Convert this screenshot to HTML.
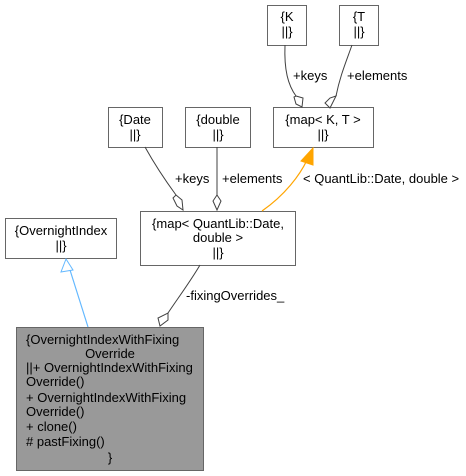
<!DOCTYPE html>
<html><head><meta charset="utf-8"><style>
html,body{margin:0;padding:0;background:#fff;}
svg{display:block;}
text{font-family:"Liberation Sans",Arial,sans-serif;font-size:13px;fill:#000;}
</style></head><body>
<svg width="466" height="476" viewBox="0 0 466 476" xmlns="http://www.w3.org/2000/svg">
<g fill="#fff" stroke="#666" stroke-width="1">
<rect x="267.5" y="5.5" width="39" height="40"/>
<rect x="339.5" y="5.5" width="39" height="40"/>
<rect x="273.5" y="107.5" width="100" height="40"/>
<rect x="108.5" y="107.5" width="54" height="40"/>
<rect x="185.5" y="107.5" width="65" height="40"/>
<rect x="140.5" y="211.5" width="155" height="54"/>
<rect x="5.5" y="218.5" width="111" height="40"/>
<rect x="16.5" y="327.5" width="187" height="143" fill="#999"/>
</g>
<g fill="none" stroke="#404040" stroke-width="1">
<path d="M285 45 C284 70 288 85 296 96"/>
<path d="M352 45 C346 62 340 76 336 96"/>
<path d="M145 147 C155 165 165 180 176 195"/>
<path d="M217 147 L217 195"/>
<path d="M200 265 C190 282 178 298 168 313"/>
</g>
<g fill="#fff" stroke="#404040" stroke-width="1">
<polygon points="296,96 303,98 302,107 296,104 294,97"/>
<polygon points="336,96 333,102 330,108 325,103 330,98"/>
<polygon points="176,195 182,200 183,210 177,206 173,198"/>
<polygon points="217,195 221,201 217,210 213,201"/>
<polygon points="168,313 168,320 160,326 158,318"/>
</g>
<path d="M262 211 C285 195 300 175 307 160" fill="none" stroke="#ffa500" stroke-width="1.2"/>
<polygon points="313,148 301,161 313,165" fill="#ffa500" stroke="#ffa500"/>
<path d="M88 327 L70 270" fill="none" stroke="#63b8ff" stroke-width="1.2"/>
<polygon points="66,259 61,272 73,270" fill="#fff" stroke="#63b8ff"/>
<g text-anchor="middle">
<text x="287" y="21">{K</text><text x="287" y="36">||}</text>
<text x="359" y="21">{T</text><text x="359" y="36">||}</text>
<text x="323" y="124">{map&lt; K, T &gt;</text><text x="323" y="139">||}</text>
<text x="135" y="124">{Date</text><text x="135" y="139">||}</text>
<text x="218" y="124">{double</text><text x="218" y="139">||}</text>
<text x="218" y="228">{map&lt; QuantLib::Date,</text><text x="218" y="242">double &gt;</text><text x="218" y="257">||}</text>
<text x="61" y="235">{OvernightIndex</text><text x="61" y="250">||}</text>
<text x="110" y="358">Override</text>
<text x="110" y="462">}</text>
</g>
<text x="26" y="344">{OvernightIndexWithFixing</text>
<text x="26" y="372">||+ OvernightIndexWithFixing</text>
<text x="26" y="386">Override()</text>
<text x="26" y="402">+ OvernightIndexWithFixing</text>
<text x="26" y="416">Override()</text>
<text x="26" y="431">+ clone()</text>
<text x="26" y="446"># pastFixing()</text>
<text x="293" y="80">+keys</text>
<text x="347" y="80">+elements</text>
<text x="175" y="183">+keys</text>
<text x="222" y="183">+elements</text>
<text x="303" y="183">&lt; QuantLib::Date, double &gt;</text>
<text x="186" y="300">-fixingOverrides_</text>
</svg>
</body></html>
